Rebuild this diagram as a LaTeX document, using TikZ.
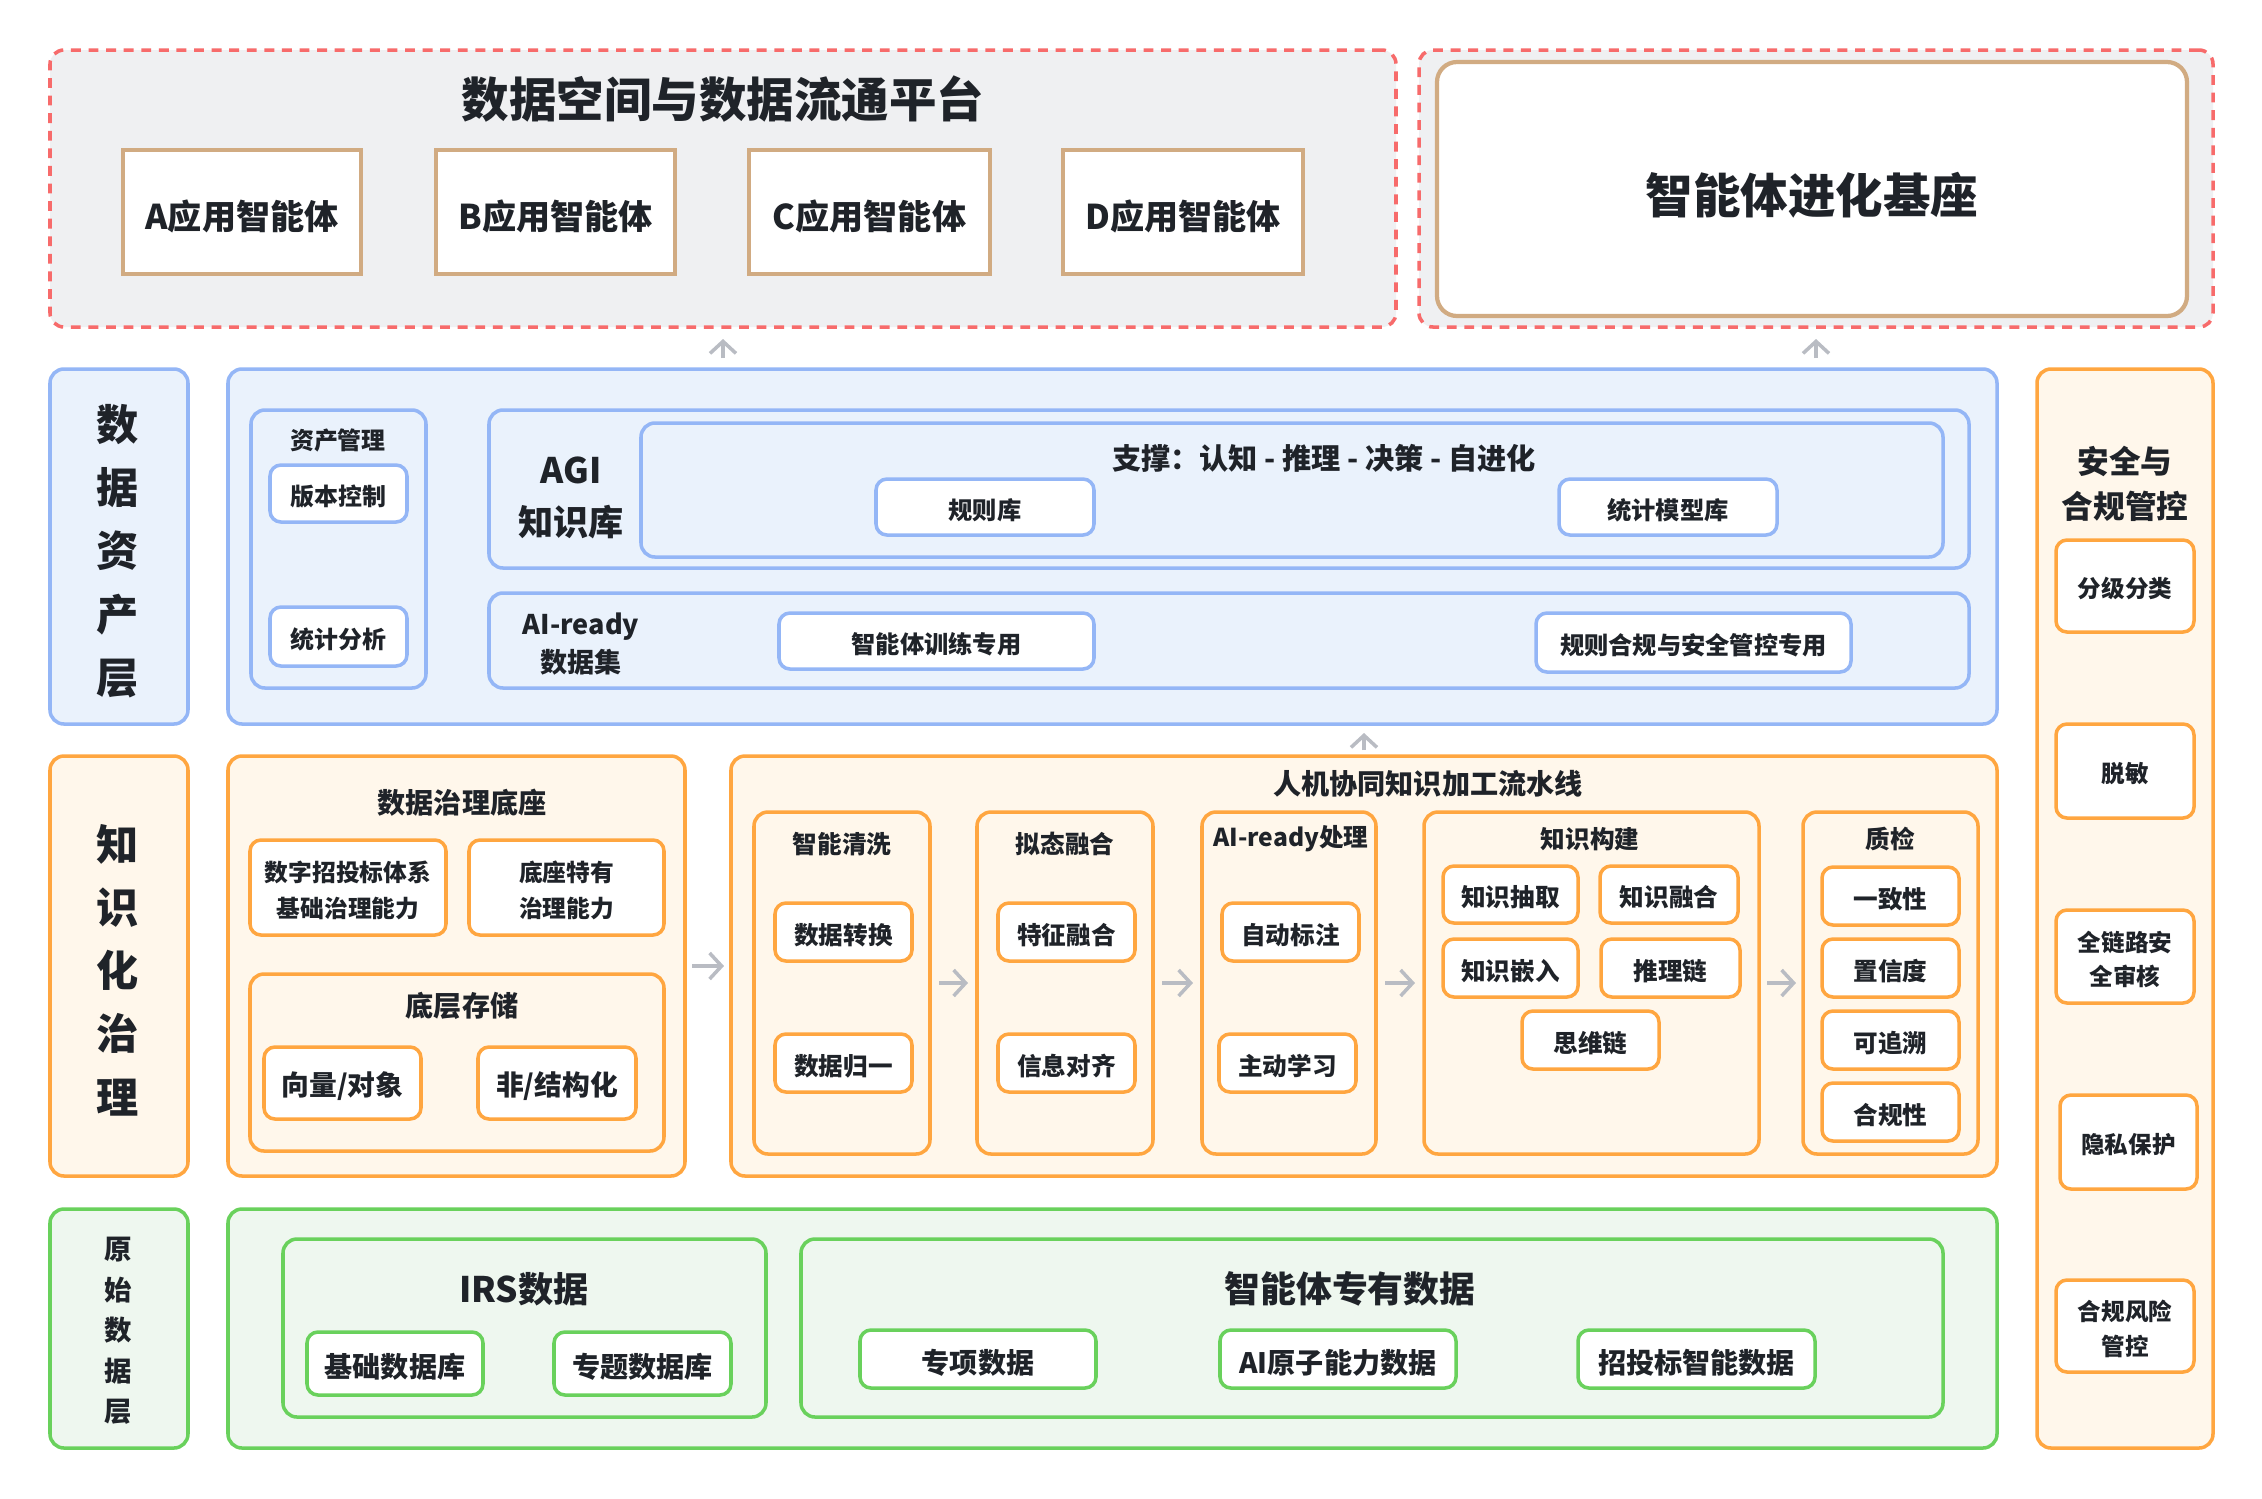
\documentclass[tikz,border=0pt]{standalone}
\usepackage{fontspec}
\setmainfont{Noto Sans CJK SC}
\usetikzlibrary{arrows.meta}
\definecolor{txt}{HTML}{1F2329}
\definecolor{blueb}{HTML}{94B6F6}
\definecolor{bluef}{HTML}{EAF2FC}
\definecolor{orab}{HTML}{FFA640}
\definecolor{oraf}{HTML}{FFF7EB}
\definecolor{greb}{HTML}{69D15C}
\definecolor{gref}{HTML}{EEF7EF}
\definecolor{redd}{HTML}{F76B6B}
\definecolor{grayf}{HTML}{EFF0F2}
\definecolor{tan}{HTML}{D1AB82}
\definecolor{arrg}{HTML}{B9BCC3}
\newcommand\fs[2]{\fontsize{#1pt}{#2pt}\selectfont\bfseries}
% frame only
\newcommand\frbox[6]{\node[#6, minimum width={(#4-#2)*0.01cm}, minimum height={(#5-#3)*0.01cm}] (#1) at ({(#2+#4)/2},{(#3+#5)/2}) {};}
% frame + text (text slightly lowered as in the reference)
\newcommand\mybox[8]{%
  \node[#6, minimum width={(#4-#2)*0.01cm}, minimum height={(#5-#3)*0.01cm}] (#1) at ({(#2+#4)/2},{(#3+#5)/2}) {};
  \pgfmathsetmacro\mybs{#7*1.48}\pgfmathsetmacro\mysh{(#3+#5)/2+0.43*#7}%
  \node[font=\fs{#7}{\mybs}] (#1-t) at ({(#2+#4)/2},\mysh) {#8};}
\begin{document}
\begin{tikzpicture}[x=0.01cm,y=-0.01cm,
  every node/.style={inner sep=0pt, outer sep=0pt, align=center, text=txt, font=\fs{7}{9}},
  bbox/.style={draw=blueb, fill=bluef, line width=1pt, rounded corners=0.14cm},
  bchip/.style={draw=blueb, fill=white, line width=1pt, rounded corners=0.11cm},
  obox/.style={draw=orab, fill=oraf, line width=1pt, rounded corners=0.14cm},
  ochip/.style={draw=orab, fill=white, line width=1pt, rounded corners=0.11cm},
  gbox/.style={draw=greb, fill=gref, line width=1pt, rounded corners=0.14cm},
  gchip/.style={draw=greb, fill=white, line width=1pt, rounded corners=0.11cm},
  dbox/.style={draw=redd, fill=grayf, line width=1pt, dash pattern=on 2.8pt off 2.2pt, rounded corners=0.14cm},
  tbox/.style={draw=tan, fill=white, line width=1.2pt},
  tround/.style={draw=tan, fill=white, line width=1.2pt, rounded corners=0.2cm},
  arr/.style={draw=arrg, line width=1pt, -{Straight Barb[length=0.12cm,width=0.26cm]}}
]
\fill[white] (0,0) rectangle (2262,1499);
\useasboundingbox (0,0) rectangle (2262,1499);

% ---------- top ----------
\frbox{dashL}{50}{50}{1396}{327}{dbox}
\node[font=\fs{13.5}{16}] (title1) at (723,99) {数据空间与数据流通平台};
\mybox{appA}{123}{150}{361}{274}{tbox}{9.7}{A应用智能体}
\mybox{appB}{436}{150}{675}{274}{tbox}{9.7}{B应用智能体}
\mybox{appC}{749}{150}{990}{274}{tbox}{9.7}{C应用智能体}
\mybox{appD}{1063}{150}{1303}{274}{tbox}{9.7}{D应用智能体}
\frbox{dashR}{1419}{50}{2213}{327}{dbox}
\mybox{evo}{1437}{62}{2187}{316}{tround}{13.5}{智能体进化基座}

% ---------- blue layer ----------
\frbox{labA}{50}{369}{188}{724}{bbox}
\node[font=\fs{12}{18}] (labAT) at (118,551) {数\\据\\资\\产\\层};
\frbox{blueMain}{228}{369}{1997}{724}{bbox}
\frbox{asset}{251}{410}{426}{688}{bbox}
\node[font=\fs{6.8}{9}] (assetT) at (338,440) {资产管理};
\mybox{ver}{270}{465}{407}{522}{bchip}{6.8}{版本控制}
\mybox{stat}{270}{607}{407}{666}{bchip}{6.8}{统计分析}
\frbox{agi}{489}{410}{1969}{568}{bbox}
\node[font=\fs{10}{14.8}] (agiT) at (571,498) {AGI\\知识库};
\frbox{sup}{641}{423}{1943}{557}{bbox}
\node[font=\fs{8.3}{10}] (supT) at (1324,458) {支撑：认知 - 推理 - 决策 - 自进化};
\mybox{rule}{876}{479}{1094}{535}{bchip}{6.9}{规则库}
\mybox{smod}{1559}{479}{1777}{535}{bchip}{6.9}{统计模型库}
\frbox{aiready}{489}{593}{1969}{688}{bbox}
\node[font=\fs{7.7}{11}] (airT) at (581,644) {AI-ready\\数据集};
\mybox{train}{779}{613}{1094}{669}{bchip}{6.9}{智能体训练专用}
\mybox{comp}{1536}{613}{1851}{672}{bchip}{6.9}{规则合规与安全管控专用}

% ---------- orange layer ----------
\frbox{labK}{50}{756}{188}{1176}{obox}
\node[font=\fs{12}{18}] (labKT) at (118,970) {知\\识\\化\\治\\理};
\frbox{gov}{228}{756}{685}{1176}{obox}
\node[font=\fs{8}{10}] (govT) at (462,803) {数据治理底座};
\mybox{g1}{250}{840}{446}{935}{ochip}{6.75}{数字招投标体系\\基础治理能力}
\mybox{g2}{469}{840}{664}{935}{ochip}{6.75}{底座特有\\治理能力}
\frbox{store}{250}{974}{664}{1151}{obox}
\node[font=\fs{8}{10}] (storeT) at (462,1006) {底层存储};
\mybox{vec}{264}{1047}{421}{1119}{ochip}{7.9}{向量/对象}
\mybox{nonstr}{478}{1047}{636}{1119}{ochip}{7.9}{非/结构化}

\frbox{pipe}{731}{756}{1997}{1176}{obox}
\node[font=\fs{8}{10}] (pipeT) at (1428,784) {人机协同知识加工流水线};
\frbox{c1}{754}{812}{930}{1154}{obox}
\node (c1T) at (842,844) {智能清洗};
\mybox{c1a}{775}{903}{912}{961}{ochip}{7}{数据转换}
\mybox{c1b}{775}{1034}{912}{1092}{ochip}{7}{数据归一}
\frbox{c2}{977}{812}{1153}{1154}{obox}
\node (c2T) at (1065,844) {拟态融合};
\mybox{c2a}{998}{903}{1135}{961}{ochip}{7}{特征融合}
\mybox{c2b}{998}{1034}{1135}{1092}{ochip}{7}{信息对齐}
\frbox{c3}{1202}{812}{1376}{1154}{obox}
\node (c3T) at (1291,839) {AI-ready处理};
\mybox{c3a}{1222}{903}{1359}{961}{ochip}{7}{自动标注}
\mybox{c3b}{1219}{1034}{1356}{1092}{ochip}{7}{主动学习}
\frbox{c4}{1424}{812}{1759}{1154}{obox}
\node (c4T) at (1590,839) {知识构建};
\mybox{k1}{1443}{866}{1578}{923}{ochip}{7}{知识抽取}
\mybox{k2}{1600}{866}{1738}{923}{ochip}{7}{知识融合}
\mybox{k3}{1443}{939}{1578}{997}{ochip}{7}{知识嵌入}
\mybox{k4}{1601}{939}{1740}{997}{ochip}{7}{推理链}
\mybox{k5}{1522}{1011}{1659}{1069}{ochip}{7}{思维链}
\frbox{c5}{1803}{812}{1978}{1154}{obox}
\node (c5T) at (1890,839) {质检};
\mybox{q1}{1822}{867}{1959}{925}{ochip}{7}{一致性}
\mybox{q2}{1822}{939}{1959}{997}{ochip}{7}{置信度}
\mybox{q3}{1822}{1011}{1959}{1069}{ochip}{7}{可追溯}
\mybox{q4}{1822}{1083}{1959}{1141}{ochip}{7}{合规性}

% ---------- security ----------
\frbox{sec}{2037}{369}{2213}{1448}{obox}
\node[font=\fs{9}{12.8}] (secT) at (2125,484) {安全与\\合规管控};
\mybox{s1}{2056}{540}{2194}{632}{ochip}{6.7}{分级分类}
\mybox{s2}{2056}{724}{2194}{818}{ochip}{6.7}{脱敏}
\mybox{s3}{2056}{910}{2194}{1003}{ochip}{6.7}{全链路安\\全审核}
\mybox{s4}{2060}{1095}{2197}{1189}{ochip}{6.7}{隐私保护}
\mybox{s5}{2056}{1280}{2194}{1372}{ochip}{6.7}{合规风险\\管控}

% ---------- green layer ----------
\frbox{labR}{50}{1209}{188}{1448}{gbox}
\node[font=\fs{7.8}{11.5}] (labRT) at (118,1331) {原\\始\\数\\据\\层};
\frbox{green}{228}{1209}{1997}{1448}{gbox}
\frbox{irs}{283}{1239}{766}{1417}{gbox}
\node[font=\fs{10}{12}] (irsT) at (524,1289) {IRS数据};
\mybox{db1}{307}{1332}{483}{1395}{gchip}{8}{基础数据库}
\mybox{db2}{554}{1332}{731}{1395}{gchip}{8}{专题数据库}
\frbox{own}{801}{1239}{1943}{1417}{gbox}
\node[font=\fs{10.2}{12}] (ownT) at (1350,1289) {智能体专有数据};
\mybox{o1}{860}{1330}{1096}{1388}{gchip}{8}{专项数据}
\mybox{o2}{1220}{1330}{1456}{1388}{gchip}{8}{AI原子能力数据}
\mybox{o3}{1578}{1330}{1815}{1388}{gchip}{8}{招投标智能数据}

% ---------- arrows ----------
\draw[arr, shorten <=0.11cm, shorten >=0.12cm] (blueMain.north -| dashL.south) -- (dashL.south);
\draw[arr, shorten <=0.11cm, shorten >=0.12cm] (blueMain.north -| dashR.south) -- (dashR.south);
\draw[arr, shorten <=0.06cm, shorten >=0.09cm] (pipe.north) -- (pipe.north |- blueMain.south);
\draw[arr, shorten <=0.07cm, shorten >=0.07cm] (gov.east) -- (pipe.west);
\draw[arr, shorten <=0.09cm, shorten >=0.09cm] (c1.east) -- (c2.west);
\draw[arr, shorten <=0.09cm, shorten >=0.09cm] (c2.east) -- (c3.west);
\draw[arr, shorten <=0.09cm, shorten >=0.09cm] (c3.east) -- (c4.west);
\draw[arr, shorten <=0.08cm, shorten >=0.07cm] (c4.east) -- (c5.west);
\end{tikzpicture}
\end{document}
